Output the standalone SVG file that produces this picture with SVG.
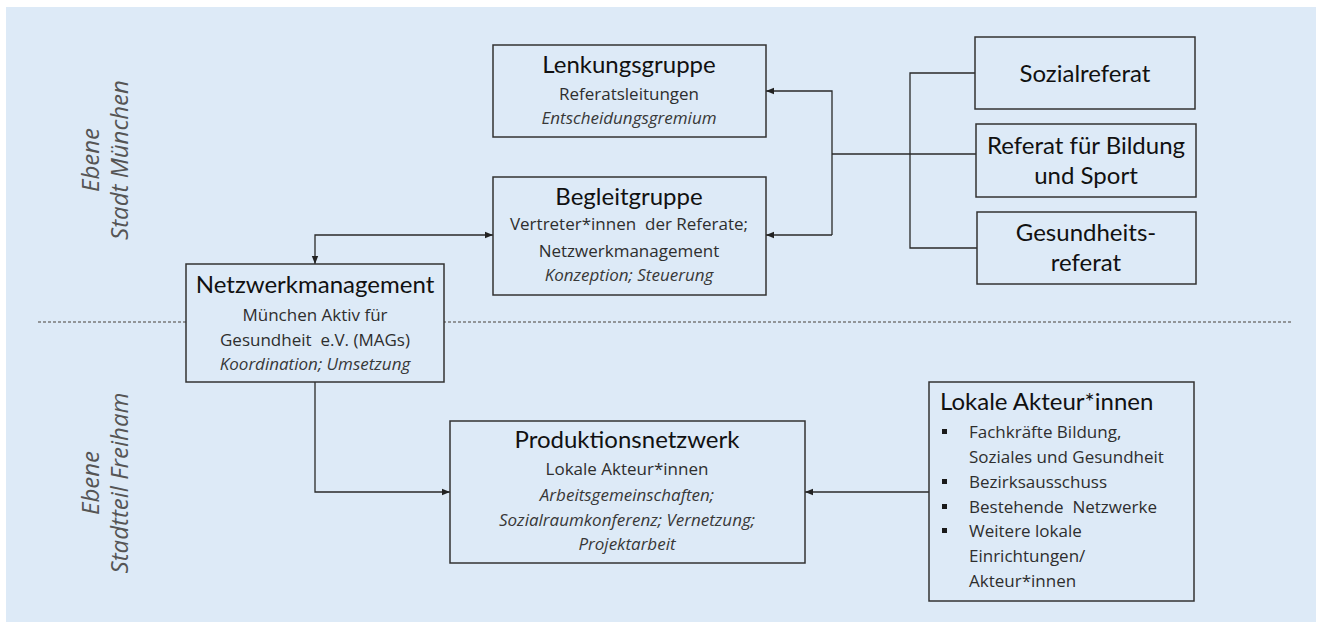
<svg xmlns="http://www.w3.org/2000/svg" width="1321" height="628" viewBox="0 0 1321 628">
<defs>
<marker id="arr" viewBox="0 0 8 8" refX="8" refY="4" markerWidth="8" markerHeight="8" markerUnits="userSpaceOnUse" orient="auto-start-reverse">
<path d="M0,0.8 L8,4 L0,7.2 z" fill="#222"/>
</marker>
<style>
.box{fill:#ddeaf7;stroke:#333;stroke-width:1.5}
.t{font-family:Lato,"Open Sans",sans-serif;font-size:24px;fill:#111;text-anchor:middle}
.b{font-family:"Open Sans","DejaVu Sans",sans-serif;font-size:17px;fill:#2e2e2e;text-anchor:middle}
.i{font-style:italic;fill:#383838}
.side{font-family:"Open Sans","DejaVu Sans",sans-serif;font-size:24px;font-style:italic;fill:#555;text-anchor:middle}
.c{fill:none;stroke:#2a2a2a;stroke-width:1.3}
.l{text-anchor:start}
</style>
</defs>
<rect width="1321" height="628" fill="#ffffff"/>
<rect x="6" y="7" width="1310" height="615" fill="#ddeaf7"/>
<line x1="38" y1="322" x2="1291" y2="322" stroke="#7a7a7a" stroke-width="1.5" stroke-dasharray="3,2"/>
<g id="side-labels">
<text class="side" transform="translate(99,160) rotate(-90)">Ebene</text>
<text class="side" transform="translate(128,160) rotate(-90)">Stadt München</text>
<text class="side" transform="translate(99,483) rotate(-90)">Ebene</text>
<text class="side" transform="translate(128,483) rotate(-90)">Stadtteil Freiham</text>
</g>
<g id="connectors">
<path class="c" d="M315,264 V235 H493" marker-start="url(#arr)" marker-end="url(#arr)"/>
<path class="c" d="M976,154 H832"/>
<path class="c" d="M832,235 V91 H766" marker-end="url(#arr)"/>
<path class="c" d="M832,235 H766" marker-end="url(#arr)"/>
<path class="c" d="M976,73 H910 V248 H977"/>
<path class="c" d="M315,382 V492 H450" marker-end="url(#arr)"/>
<path class="c" d="M929,492 H805" marker-end="url(#arr)"/>
</g>
<g id="lenkungsgruppe">
<rect class="box" x="493" y="45" width="273" height="92"/>
<text class="t" x="629" y="73">Lenkungsgruppe</text>
<text class="b" x="629" y="100">Referatsleitungen</text>
<text class="b i" x="629" y="124">Entscheidungsgremium</text>
</g>
<g id="begleitgruppe">
<rect class="box" x="493" y="177" width="273" height="118"/>
<text class="t" x="629" y="205">Begleitgruppe</text>
<text class="b" x="629" y="230" xml:space="preserve">Vertreter*innen  der Referate;</text>
<text class="b" x="629" y="257">Netzwerkmanagement</text>
<text class="b i" x="629" y="281">Konzeption; Steuerung</text>
</g>
<g id="sozialreferat">
<rect class="box" x="975" y="37" width="220" height="72"/>
<text class="t" x="1085" y="82">Sozialreferat</text>
</g>
<g id="referat-bildung-sport">
<rect class="box" x="976" y="124" width="220" height="73"/>
<text class="t" x="1086" y="154">Referat für Bildung</text>
<text class="t" x="1086" y="184">und Sport</text>
</g>
<g id="gesundheitsreferat">
<rect class="box" x="977" y="212" width="219" height="72"/>
<text class="t" x="1086" y="241">Gesundheits-</text>
<text class="t" x="1086" y="271">referat</text>
</g>
<g id="netzwerkmanagement">
<rect class="box" x="186" y="264" width="258" height="118"/>
<text class="t" x="315" y="293">Netzwerkmanagement</text>
<text class="b" x="315" y="321">München Aktiv für</text>
<text class="b" x="315" y="346" xml:space="preserve">Gesundheit  e.V. (MAGs)</text>
<text class="b i" x="315" y="370">Koordination; Umsetzung</text>
</g>
<g id="produktionsnetzwerk">
<rect class="box" x="450" y="421" width="355" height="142"/>
<text class="t" x="627" y="448">Produktionsnetzwerk</text>
<text class="b" x="627" y="475">Lokale Akteur*innen</text>
<text class="b i" x="627" y="501">Arbeitsgemeinschaften;</text>
<text class="b i" x="627" y="526">Sozialraumkonferenz; Vernetzung;</text>
<text class="b i" x="627" y="550">Projektarbeit</text>
</g>
<g id="lokale-akteurinnen">
<rect class="box" x="929" y="382" width="265" height="219"/>
<text class="t l" x="940" y="410">Lokale Akteur*innen</text>
<rect x="942" y="429" width="5" height="5" fill="#1a1a1a"/>
<rect x="942" y="479" width="5" height="5" fill="#1a1a1a"/>
<rect x="942" y="504" width="5" height="5" fill="#1a1a1a"/>
<rect x="942" y="528" width="5" height="5" fill="#1a1a1a"/>
<text class="b l" x="969" y="438">Fachkräfte Bildung,</text>
<text class="b l" x="969" y="463">Soziales und Gesundheit</text>
<text class="b l" x="969" y="488">Bezirksausschuss</text>
<text class="b l" x="969" y="513" xml:space="preserve">Bestehende  Netzwerke</text>
<text class="b l" x="969" y="537">Weitere lokale</text>
<text class="b l" x="969" y="562">Einrichtungen/</text>
<text class="b l" x="969" y="587">Akteur*innen</text>
</g>
</svg>
